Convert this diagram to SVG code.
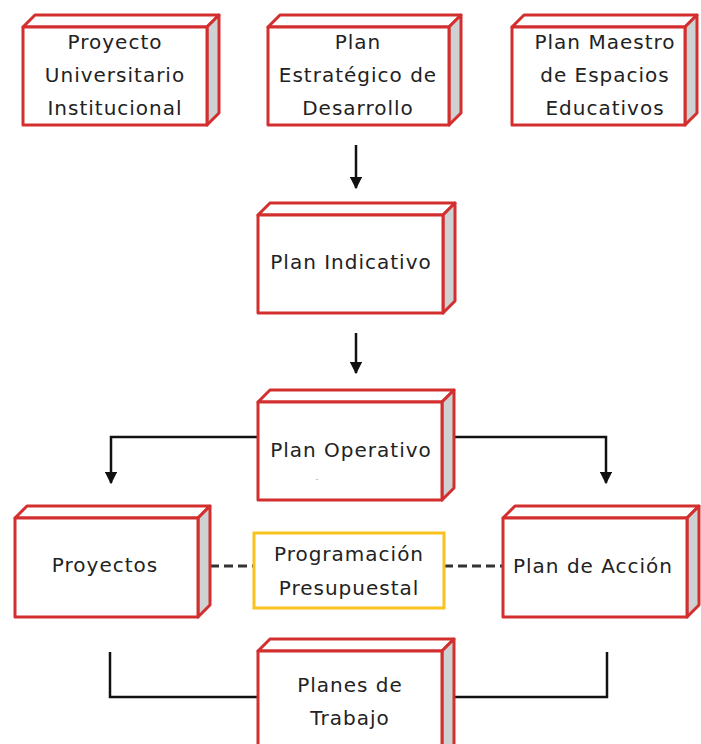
<svg xmlns="http://www.w3.org/2000/svg" width="701" height="744" viewBox="0 0 701 744">
<defs>
<style>
.f{fill:#fff;stroke:#d32f2f;stroke-width:3;stroke-linejoin:round}
.s{fill:#cfd2d2;stroke:#d32f2f;stroke-width:3;stroke-linejoin:round}
.t{font-family:"DejaVu Sans","Noto Sans",sans-serif;font-size:20px;letter-spacing:1px;fill:#222;text-anchor:middle;dominant-baseline:central}
.c{fill:none;stroke:#111;stroke-width:2.5}
.d{fill:none;stroke:#333;stroke-width:3;stroke-dasharray:9,5}
</style>
<marker id="ah" viewBox="0 0 10 10" refX="9" refY="5" markerWidth="5" markerHeight="5" orient="auto"><path d="M0,0 L10,5 L0,10 z" fill="#111"/></marker>
</defs>
<rect width="701" height="744" fill="#fff"/>
<g id="connectors">
<line class="c" x1="356" y1="145" x2="356" y2="188" marker-end="url(#ah)"/>
<line class="c" x1="356" y1="333" x2="356" y2="373" marker-end="url(#ah)"/>
<polyline class="c" points="258,437 111,437 111,483" marker-end="url(#ah)"/>
<polyline class="c" points="452,437 606,437 606,483" marker-end="url(#ah)"/>
<line class="d" x1="210" y1="566" x2="254" y2="566"/>
<line class="d" x1="444" y1="566" x2="503" y2="566"/>
<polyline class="c" points="110,652 110,697 258,697"/>
<polyline class="c" points="442,697 607,697 607,652"/>
</g>
<g id="n1">
<polygon class="f" points="23,27 35,15 219,15 207,27"/>
<polygon class="s" points="207,27 219,15 219,113 207,125"/>
<rect class="f" x="23" y="27" width="184" height="98"/>
<text class="t" x="115" y="42">Proyecto</text>
<text class="t" x="115" y="75">Universitario</text>
<text class="t" x="115" y="108">Institucional</text>
</g>
<g id="n2">
<polygon class="f" points="268,27 280,15 461,15 449,27"/>
<polygon class="s" points="449,27 461,15 461,113 449,125"/>
<rect class="f" x="268" y="27" width="181" height="98"/>
<text class="t" x="358" y="42">Plan</text>
<text class="t" x="358" y="75">Estratégico de</text>
<text class="t" x="358" y="108">Desarrollo</text>
</g>
<g id="n3">
<polygon class="f" points="512,27 524,15 697,15 685,27"/>
<polygon class="s" points="685,27 697,15 697,113 685,125"/>
<rect class="f" x="512" y="27" width="173" height="98"/>
<text class="t" x="605" y="42">Plan Maestro</text>
<text class="t" x="605" y="75">de Espacios</text>
<text class="t" x="605" y="108">Educativos</text>
</g>
<g id="n4">
<polygon class="f" points="258,215 270,203 455,203 443,215"/>
<polygon class="s" points="443,215 455,203 455,301 443,313"/>
<rect class="f" x="258" y="215" width="185" height="98"/>
<text class="t" x="351" y="262">Plan Indicativo</text>
</g>
<g id="n5">
<polygon class="f" points="258,402 270,390 454,390 442,402"/>
<polygon class="s" points="442,402 454,390 454,488 442,500"/>
<rect class="f" x="258" y="402" width="184" height="98"/>
<text class="t" x="351" y="450">Plan Operativo</text>
<text x="317" y="482" font-family="DejaVu Sans,sans-serif" font-size="8" fill="#aaa" text-anchor="middle">-</text>
</g>
<g id="n6">
<polygon class="f" points="15,518 27,506 210,506 198,518"/>
<polygon class="s" points="198,518 210,506 210,605 198,617"/>
<rect class="f" x="15" y="518" width="183" height="99"/>
<text class="t" x="105" y="565">Proyectos</text>
</g>
<g id="n7">
<rect x="254" y="533" width="190" height="75" fill="#fff" stroke="#f7c31c" stroke-width="3"/>
<text class="t" x="349" y="554">Programación</text>
<text class="t" x="349" y="588">Presupuestal</text>
</g>
<g id="n8">
<polygon class="f" points="503,518 515,506 699,506 687,518"/>
<polygon class="s" points="687,518 699,506 699,605 687,617"/>
<rect class="f" x="503" y="518" width="184" height="99"/>
<text class="t" x="593" y="566">Plan de Acción</text>
</g>
<g id="n9">
<polygon class="f" points="258,651 270,639 454,639 442,651"/>
<polygon class="s" points="442,651 454,639 454,750 442,762"/>
<rect class="f" x="258" y="651" width="184" height="111"/>
<text class="t" x="350" y="685">Planes de</text>
<text class="t" x="350" y="718">Trabajo</text>
</g>
</svg>
